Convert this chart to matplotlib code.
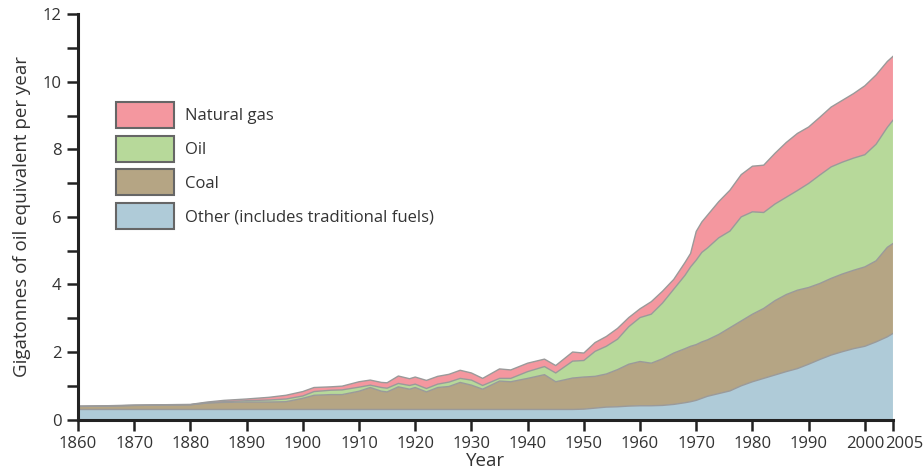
import numpy as np
import matplotlib
matplotlib.use("Agg")
import matplotlib.pyplot as plt
import matplotlib.transforms as mtransforms
from matplotlib.patches import Patch

plt.rcParams['font.family'] = ['Open Sans', 'DejaVu Sans']

# world primary energy use, Gt oil equivalent per year
anos = [1860, 1865, 1870, 1875, 1880, 1883, 1886, 1890, 1894, 1897,
        1900, 1902, 1905, 1907, 1910, 1912, 1914, 1915, 1917, 1919,
        1920, 1922, 1924, 1926, 1928, 1930, 1932, 1935, 1937, 1940,
        1943, 1945, 1948, 1950, 1952, 1954, 1956, 1958, 1960, 1962,
        1964, 1966, 1968, 1969, 1970, 1971, 1972, 1974, 1976, 1978,
        1980, 1982, 1984, 1986, 1988, 1990, 1992, 1994, 1996, 1998,
        2000, 2002, 2004, 2005]

outros = [0.30, 0.30, 0.30, 0.30, 0.30, 0.30, 0.30, 0.30, 0.30, 0.30,
          0.30, 0.30, 0.30, 0.30, 0.30, 0.30, 0.30, 0.30, 0.30, 0.30,
          0.30, 0.30, 0.30, 0.30, 0.30, 0.30, 0.30, 0.30, 0.30, 0.30,
          0.30, 0.30, 0.30, 0.31, 0.34, 0.37, 0.38, 0.40, 0.41, 0.41,
          0.42, 0.45, 0.50, 0.53, 0.57, 0.63, 0.69, 0.77, 0.85, 1.00,
          1.12, 1.22, 1.32, 1.42, 1.51, 1.64, 1.78, 1.91, 2.01, 2.10,
          2.17, 2.30, 2.45, 2.55]

carvao = [0.09, 0.10, 0.12, 0.13, 0.14, 0.19, 0.21, 0.22, 0.22, 0.23,
          0.33, 0.42, 0.44, 0.44, 0.54, 0.65, 0.54, 0.52, 0.67, 0.60,
          0.65, 0.52, 0.65, 0.68, 0.80, 0.72, 0.60, 0.84, 0.82, 0.92,
          1.03, 0.82, 0.93, 0.95, 0.94, 0.98, 1.10, 1.24, 1.31, 1.26,
          1.38, 1.52, 1.60, 1.64, 1.65, 1.67, 1.67, 1.75, 1.87, 1.92,
          2.00, 2.07, 2.20, 2.28, 2.32, 2.27, 2.25, 2.27, 2.30, 2.32,
          2.35, 2.40, 2.65, 2.66]

petroleo = [0.00, 0.00, 0.00, 0.00, 0.00, 0.01, 0.02, 0.04, 0.06, 0.08,
            0.07, 0.11, 0.13, 0.14, 0.12, 0.07, 0.11, 0.11, 0.10, 0.11,
            0.10, 0.10, 0.10, 0.13, 0.12, 0.15, 0.11, 0.08, 0.10, 0.20,
            0.24, 0.26, 0.50, 0.49, 0.74, 0.82, 0.90, 1.11, 1.30, 1.45,
            1.65, 1.89, 2.17, 2.35, 2.50, 2.65, 2.72, 2.86, 2.86, 3.08,
            3.03, 2.84, 2.86, 2.88, 2.95, 3.08, 3.21, 3.30, 3.31, 3.32,
            3.32, 3.45, 3.55, 3.65]

gas = [0.01, 0.01, 0.01, 0.01, 0.01, 0.02, 0.04, 0.05, 0.08, 0.11,
       0.13, 0.12, 0.10, 0.11, 0.16, 0.15, 0.15, 0.16, 0.22, 0.20,
       0.21, 0.24, 0.23, 0.23, 0.24, 0.21, 0.21, 0.28, 0.25, 0.25,
       0.22, 0.22, 0.27, 0.22, 0.26, 0.29, 0.32, 0.27, 0.26, 0.37,
       0.35, 0.29, 0.38, 0.40, 0.85, 0.90, 0.97, 1.07, 1.21, 1.25,
       1.35, 1.40, 1.50, 1.62, 1.69, 1.67, 1.71, 1.77, 1.83, 1.91,
       2.04, 2.05, 1.95, 1.89]

nomes = ["Other (includes traditional fuels)", "Coal", "Oil", "Natural gas"]
cores = ["#afcbd8", "#b5a584", "#b7d99a", "#f4979f"]

fig = plt.figure(figsize=(9.24, 4.72), dpi=100)
ax = fig.add_axes([0.0844, 0.111, 0.882, 0.859])

series = [outros, carvao, petroleo, gas]
ax.stackplot(anos, *series, colors=cores, linewidth=0)

# thin grey outline on top of each band
acumulado = np.cumsum(np.array(series), axis=0)
for linha in acumulado:
    ax.plot(anos, linha, color="#9a9a9a", lw=1.0)

ax.set_xlim(1860, 2005)
ax.set_ylim(0, 12)

ax.spines["top"].set_visible(False)
ax.spines["right"].set_visible(False)
ax.spines["left"].set_linewidth(2.2)
ax.spines["bottom"].set_linewidth(2.2)
ax.spines["left"].set_color("#222222")
ax.spines["bottom"].set_color("#222222")

ax.set_xticks(list(range(1860, 2001, 10)) + [2005])
ax.set_yticks(range(0, 13, 2))
ax.set_yticks(range(1, 12, 2), minor=True)
ax.tick_params(axis="both", which="both", direction="out", length=8,
               width=1.8, color="#222222", labelsize=12,
               labelcolor="#333333", pad=4)

# push the 2005 label right so it doesn't sit on top of 2000
ultimo = ax.xaxis.get_major_ticks()[-1].label1
ultimo.set_transform(ultimo.get_transform() +
                     mtransforms.ScaledTranslation(0.11, 0, fig.dpi_scale_trans))

ax.set_xlabel("Year", fontsize=13.5, color="#333333", labelpad=0)
ax.set_ylabel("Gigatonnes of oil equivalent per year", fontsize=13.5,
              color="#333333", labelpad=8)

handles = [Patch(facecolor=c, edgecolor="#666666", linewidth=1.5)
           for c in cores]
ax.legend(handles[::-1], nomes[::-1], loc="upper left",
          bbox_to_anchor=(116 / 924, 1 - 102 / 472),
          bbox_transform=fig.transFigure, frameon=False,
          fontsize=12, handlelength=3.5, handleheight=2.02,
          labelspacing=0.46, handletextpad=0.66, borderpad=0,
          borderaxespad=0, labelcolor="#333333")

fig.savefig("out.png", dpi=100)
